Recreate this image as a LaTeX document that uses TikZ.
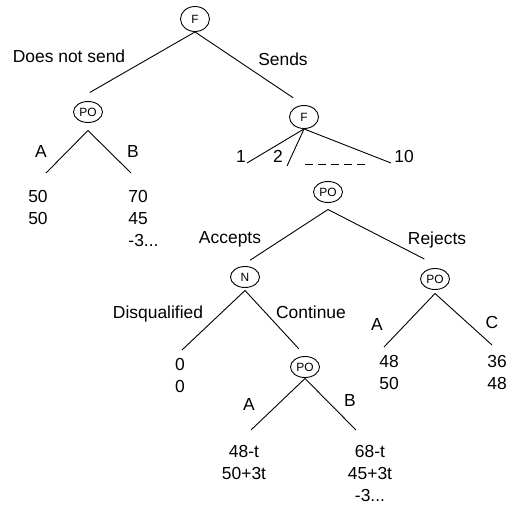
\documentclass[tikz,border=0pt]{standalone}
\usepackage{fontspec}
\setmainfont{Liberation Sans}
\usetikzlibrary{shapes.geometric}

\begin{document}
\begin{tikzpicture}[x=1bp,y=-1bp,line width=0.9bp,
  gnode/.style={draw,ellipse,minimum width=29bp,minimum height=21bp,inner sep=0pt,font=\fontsize{12}{12}\selectfont},
  lbl/.style={inner sep=0pt,anchor=base,font=\fontsize{17.5}{21}\selectfont},
  pay/.style={inner sep=0pt,anchor=north,align=center,font=\fontsize{17.5}{22}\selectfont}]
  \useasboundingbox (0,0) rectangle (507,508);

  % decision nodes
  \node[gnode,minimum height=25bp] (f1) at (195,19) {F};
  \node[gnode,outer sep=8bp] (po1) at (88,112) {PO};
  \node[gnode,minimum height=23bp] (f2) at (304,117) {F};
  \node[gnode,outer sep=7bp] (po2) at (328,192) {PO};
  \node[gnode,outer sep=3bp] (nat) at (245,277) {N};
  \node[gnode,outer sep=4bp] (po3) at (435,279) {PO};
  \node[gnode,outer sep=1bp] (po4) at (305,367) {PO};

  % free ends of the branches
  \coordinate (po1a) at (46,173);
  \coordinate (po1b) at (131,173);
  \coordinate (f2c1) at (247,163);
  \coordinate (f2c2) at (287,166);
  \coordinate (f2c10) at (391,163);
  \coordinate (dsh0) at (305,164);
  \coordinate (dsh1) at (370,164);
  \coordinate (natd) at (182,350);
  \coordinate (po3a) at (384,347);
  \coordinate (po3c) at (492,345);
  \coordinate (po4a) at (251,430);
  \coordinate (po4b) at (356,430);

  % branches
  \draw[shorten >=2bp] (f1.south) -- (po1.north);
  \draw[shorten >=13bp] (f1.south) -- (f2.north);
  \draw (po1.south) -- (po1a);
  \draw (po1.south) -- (po1b);
  \foreach \c in {f2c1,f2c2,f2c10}
    \draw (f2.south) -- (\c);
  \draw[dash pattern=on 8bp off 5bp] (dsh0) -- (dsh1);
  \draw[shorten >=6bp] (po2.south) -- (nat.north);
  \draw[shorten >=12bp] (po2.south) -- (po3.north);
  \draw (nat.south) -- (natd);
  \draw[shorten >=9bp] (nat.south) -- (po4.north);
  \draw (po3.south) -- (po3a);
  \draw (po3.south) -- (po3c);
  \draw (po4.south) -- (po4a);
  \draw (po4.south) -- (po4b);

  % action labels
  \node[lbl] (ldns) at (69,63) {Does not send};
  \node[lbl] (lsnd) at (283,66) {Sends};
  \node[lbl] (lpo1a) at (41,158) {A};
  \node[lbl] (lpo1b) at (133,158) {B};
  \node[lbl] (l1) at (241,163) {1};
  \node[lbl] (l2) at (278,163) {2};
  \node[lbl] (l10) at (404,163) {10};
  \node[lbl] (lacc) at (230,243) {Accepts};
  \node[lbl] (lrej) at (437,244) {Rejects};
  \node[lbl] (ldis) at (158,318) {Disqualified};
  \node[lbl] (lcon) at (311,318) {Continue};
  \node[lbl] (lpo3a) at (377,330) {A};
  \node[lbl] (lpo3c) at (492,328) {C};
  \node[lbl] (lpo4a) at (249,410) {A};
  \node[lbl] (lpo4b) at (350,406) {B};

  % payoffs
  \node[pay] (ppo1a) at (38,190) {50\\50};
  \node[pay,align=left,anchor=north west] (ppo1b) at (128,190) {70\\45\\-3...};
  \node[pay] (pnatd) at (180,358) {0\\0};
  \node[pay] (ppo3a) at (389,355) {48\\50};
  \node[pay] (ppo3c) at (497,355) {36\\48};
  \node[pay] (ppo4a) at (244,445) {48-t\\50+3t};
  \node[pay] (ppo4b) at (370,445) {68-t\\45+3t\\-3...};
\end{tikzpicture}
\end{document}
